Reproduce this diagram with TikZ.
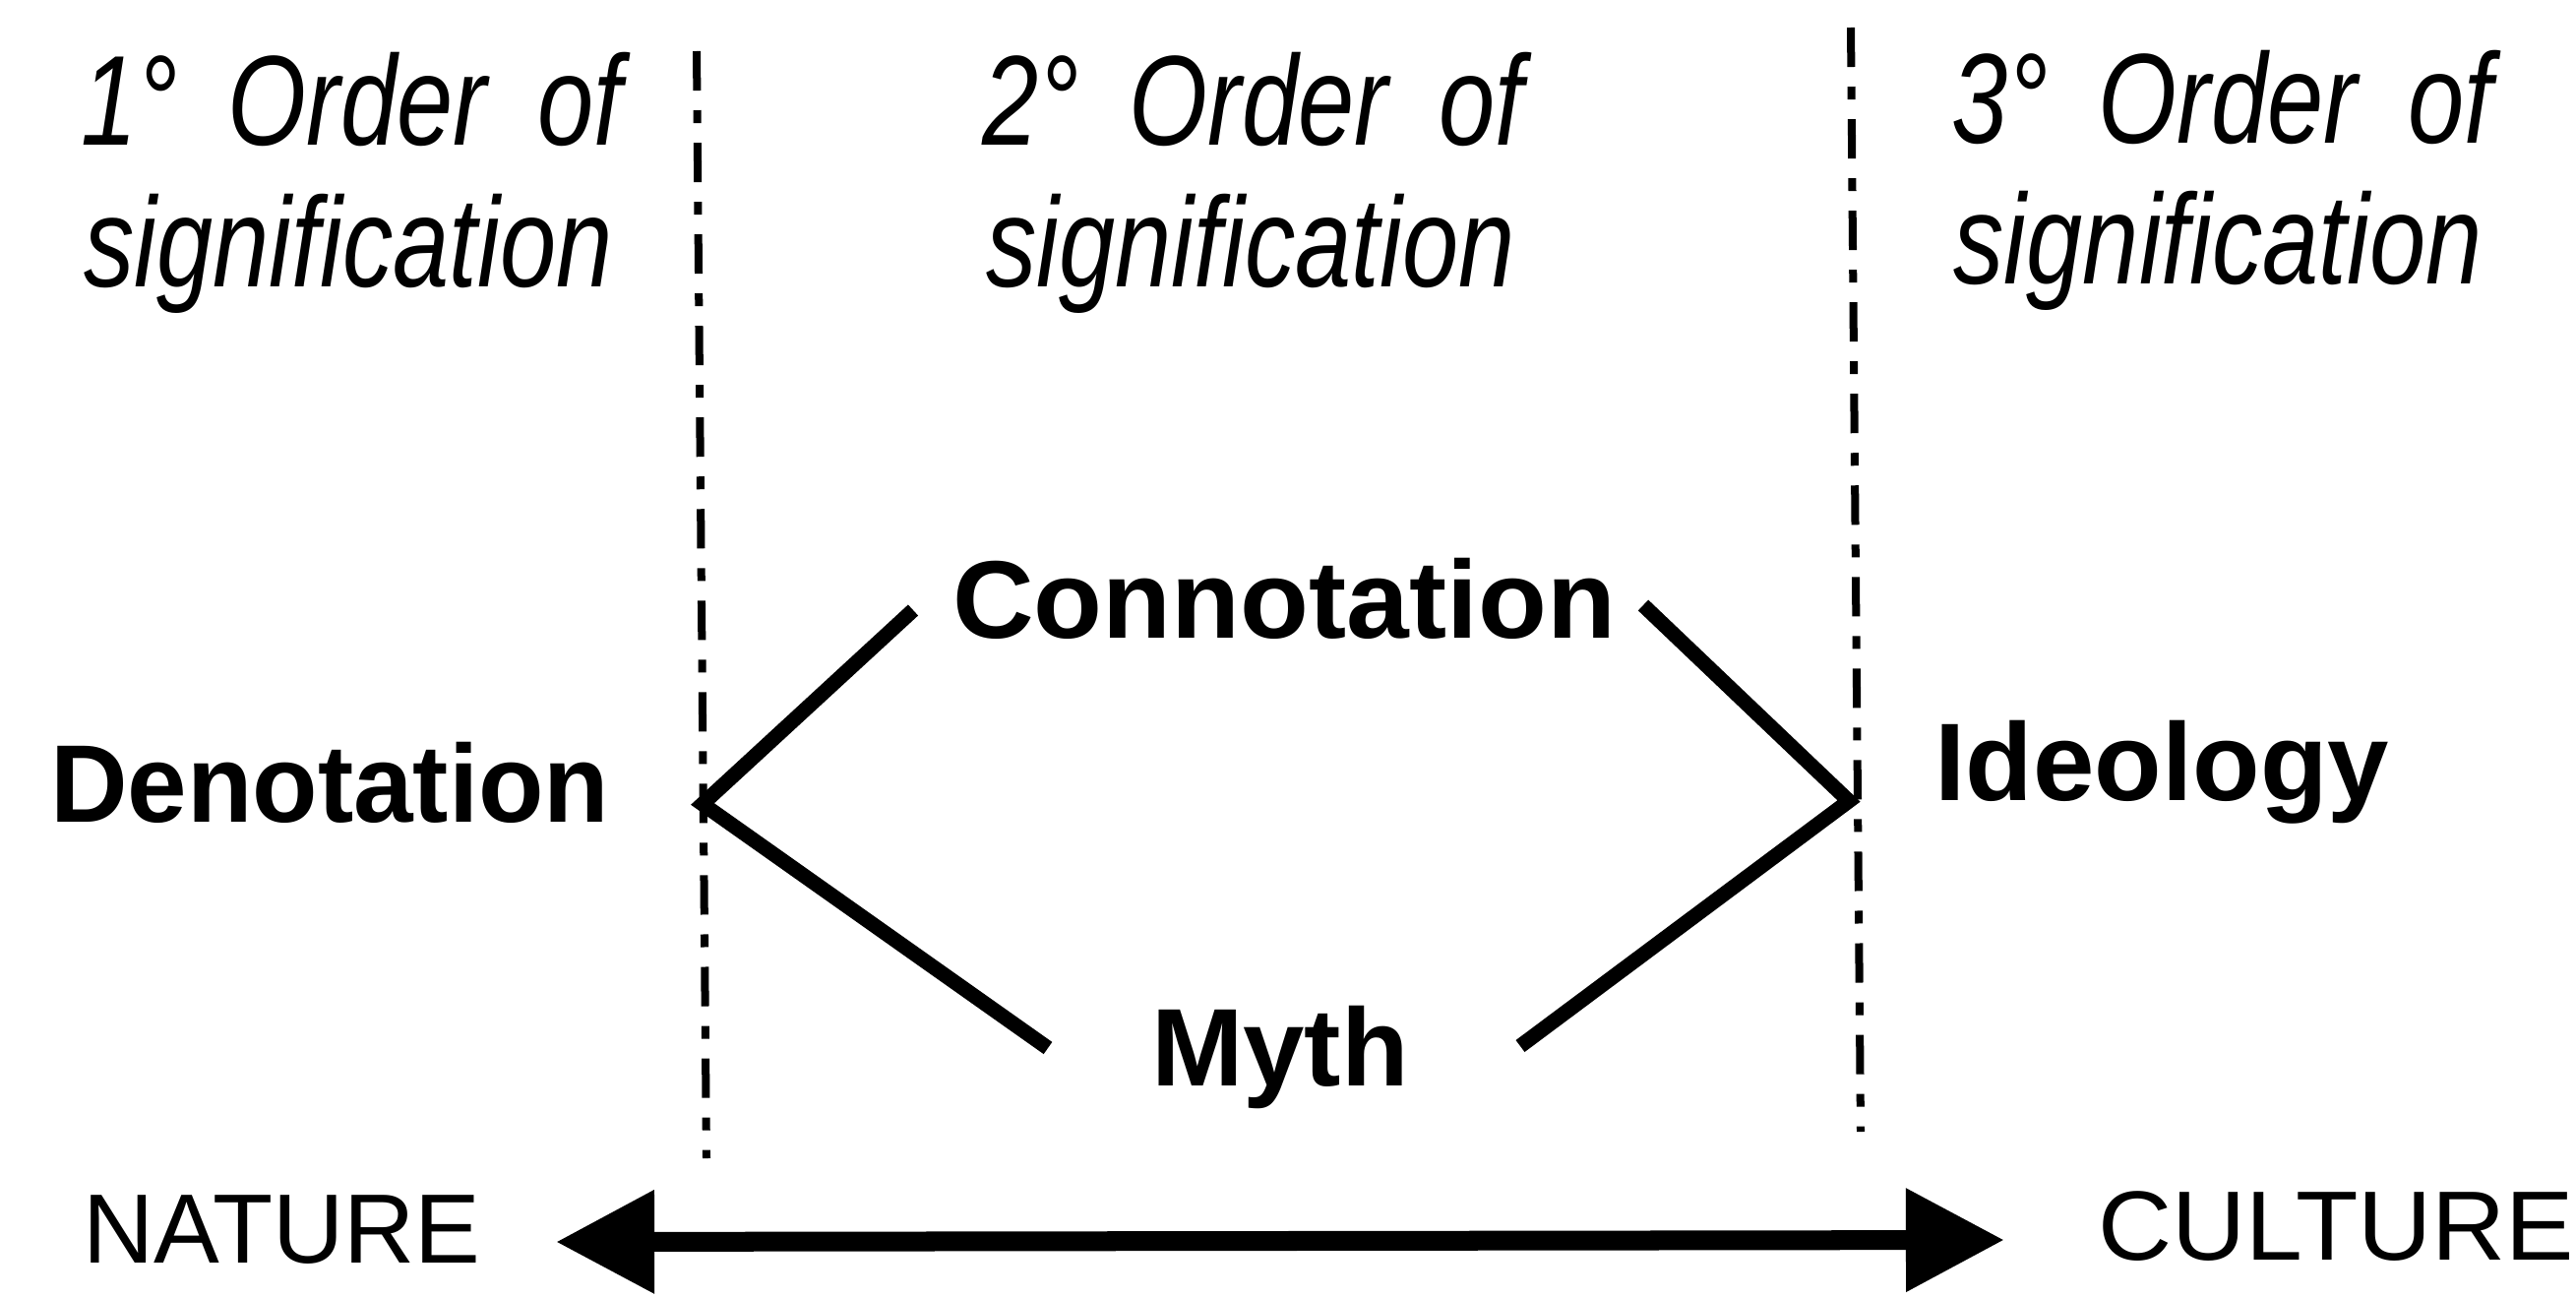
\documentclass[tikz,border=0pt]{standalone}
\usepackage{fontspec}
\setmainfont{Liberation Sans}
\usepackage{graphicx}
\usetikzlibrary{arrows.meta}
\begin{document}
\begin{tikzpicture}[x=0.01cm,y=-0.01cm,
  hdr/.style={inner sep=0pt, anchor=base, font=\fontsize{37}{41}\selectfont\itshape},
  lbl/.style={inner sep=0pt, font=\fontsize{31.9}{36}\selectfont\bfseries},
  pole/.style={inner sep=0pt, font=\fontsize{28.45}{32}\selectfont},
  divider/.style={line width=0.08cm, dash pattern=on 0.4cm off 0.2cm on 0.13cm off 0.2cm},
  link/.style={line width=0.15cm},
  axis/.style={line width=0.2cm, {Triangle[length=1cm,width=1cm]}-{Triangle[length=1cm,width=1cm]}}]
\useasboundingbox (0,0) rectangle (2618,1318);

% headers
\node[hdr] (h1a) at (357,147) {\scalebox{0.79}[1]{1°\hspace{0.5em}Order\hspace{0.5em}of}};
\node[hdr] (h1b) at (354,291) {\scalebox{0.79}[1]{signification}};
\node[hdr] (h2a) at (1273,147) {\scalebox{0.79}[1]{2°\hspace{0.5em}Order\hspace{0.5em}of}};
\node[hdr] (h2b) at (1271,291) {\scalebox{0.79}[1]{signification}};
\node[hdr] (h3a) at (2258,145) {\scalebox{0.79}[1]{3°\hspace{0.5em}Order\hspace{0.5em}of}};
\node[hdr] (h3b) at (2254,288) {\scalebox{0.79}[1]{signification}};

% dividers
\coordinate (dlt) at (708,52);
\coordinate (dlb) at (718,1177);
\coordinate (drt) at (1881,28);
\coordinate (drb) at (1891,1150);
\draw[divider] (dlt) -- (dlb);
\draw[divider] (drt) -- (drb);

% labels
\node[lbl, anchor=base east] (deno) at (620,835) {\scalebox{0.97}[1]{Denotation}};
\node[lbl, anchor=base] (conno) at (1305,648) {\scalebox{1.02}[1]{Connotation}};
\node[lbl, anchor=base] (myth) at (1301,1103) {Myth};
\node[lbl, anchor=base west] (ideo) at (1966,813) {Ideology};

% connectors
\coordinate (vL) at (714,817);
\coordinate (vR) at (1879,814);
\coordinate (c1) at (928,620);
\coordinate (c2) at (1670,615);
\coordinate (m1) at (1065,1065);
\coordinate (m2) at (1545,1063);
\draw[link] (c1) -- (vL) -- (m1);
\draw[link] (c2) -- (vR) -- (m2);

% axis
\node[pole, anchor=base west] (nat) at (84,1283) {NATURE};
\node[pole, anchor=base east] (cul) at (2617,1280) {\scalebox{1.04}[1]{CULTURE}};
\coordinate (aL) at (565,1262);
\coordinate (aR) at (2037,1260);
\draw[axis] (aL) -- (aR);
\end{tikzpicture}
\end{document}
